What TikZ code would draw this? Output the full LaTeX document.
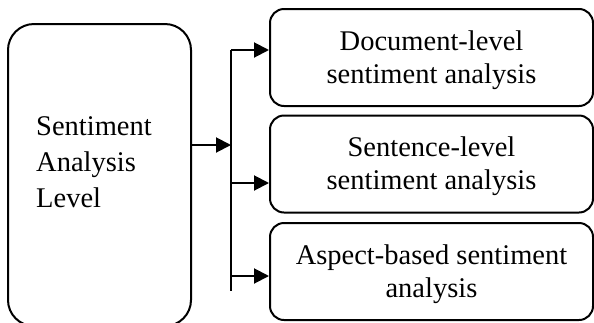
\documentclass[tikz,border=0pt]{standalone}
\usepackage{fontspec}
\setmainfont{Liberation Serif}
\usetikzlibrary{arrows.meta}
\newcommand{\kindstrut}{\rule{0pt}{24.5pt}}
\tikzset{%
    levelbox/.style={%
        draw, line width=2pt, rounded corners=26pt,
        minimum width=183pt, minimum height=302pt
    },
    kindbox/.style={%
        draw, line width=2pt, rounded corners=14pt, inner sep=0pt,
        minimum width=323pt, minimum height=97pt, align=center,
        font=\fontsize{28.5}{33}\selectfont
    },
    branch/.style={-{Triangle[length=15pt,width=15pt]}, line width=2pt}
}

\begin{document}
\begin{tikzpicture}[x=1pt,y=-1pt]
    \useasboundingbox (0,0) rectangle (594,322);
    \node[levelbox] (level) at (99.5,175) {};
    \node[anchor=north west, align=left, inner sep=0pt,
          font=\fontsize{28.5}{36}\selectfont] (leveltext) at (36,116)
          {Sentiment\\Analysis\\Level};
    \node[kindbox] (doc) at (431.5,57.5) {\kindstrut Document-level\\sentiment analysis};
    \node[kindbox] (sent) at (431.5,164) {\kindstrut Sentence-level\\sentiment analysis};
    \node[kindbox] (aspect) at (431.5,271.5) {\kindstrut Aspect-based sentiment\\analysis};
    % trunk between the level box and the three kinds
    \coordinate (join) at (231,145);
    \coordinate (trunkdoc) at (231,50);
    \coordinate (trunksent) at (231,183);
    \coordinate (trunkaspect) at (231,276);
    \coordinate (trunkend) at (231,291);
    \draw[line width=2pt] (trunkdoc) -- (trunkend);
    \draw[branch] (level.east |- join) -- (join);
    \foreach \k in {doc,sent,aspect}
    {
    \draw[branch] (trunk\k) -- (\k.west |- trunk\k);
    }
\end{tikzpicture}
\end{document}
